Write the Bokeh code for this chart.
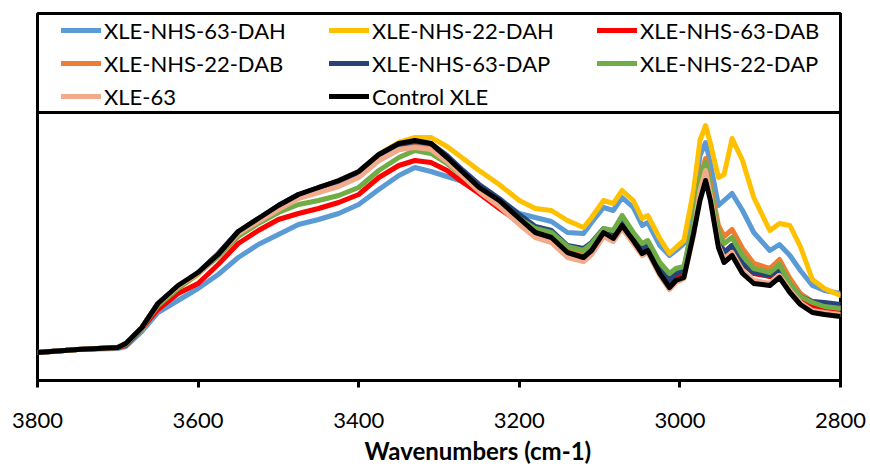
from bokeh.plotting import figure
from bokeh.models import Range1d, FixedTicker, Span, Title
from bokeh.embed import file_html
from bokeh.resources import INLINE

# Wavenumbers (cm-1)
wavenumbers = [3800, 3750, 3700, 3690, 3670, 3650, 3625, 3600, 3575, 3550,
               3525, 3500, 3475, 3450, 3425, 3400, 3375, 3350, 3330, 3310,
               3290, 3270, 3250, 3225, 3200, 3180, 3160, 3140, 3120, 3110,
               3095, 3083, 3072, 3058, 3047, 3040, 3025, 3013, 3005, 2995,
               2983, 2975, 2968, 2962, 2952, 2945, 2935, 2922, 2908, 2888,
               2876, 2863, 2850, 2835, 2820, 2800]

xle_nhs_63_dah = [0.028, 0.031, 0.032, 0.034, 0.049, 0.068, 0.080, 0.092, 0.106, 0.123,
                  0.136, 0.146, 0.156, 0.161, 0.167, 0.176, 0.191, 0.205, 0.213, 0.209,
                  0.204, 0.199, 0.191, 0.180, 0.167, 0.163, 0.159, 0.148, 0.147, 0.158,
                  0.173, 0.170, 0.183, 0.173, 0.155, 0.158, 0.135, 0.125, 0.130, 0.137,
                  0.175, 0.225, 0.238, 0.217, 0.175, 0.180, 0.187, 0.170, 0.148, 0.130,
                  0.136, 0.125, 0.110, 0.095, 0.090, 0.087]

xle_nhs_22_dah = [0.028, 0.031, 0.033, 0.036, 0.051, 0.074, 0.092, 0.106, 0.126, 0.147,
                  0.160, 0.173, 0.184, 0.191, 0.198, 0.208, 0.226, 0.238, 0.243, 0.243,
                  0.234, 0.222, 0.210, 0.196, 0.180, 0.172, 0.170, 0.160, 0.153, 0.163,
                  0.180, 0.177, 0.190, 0.180, 0.162, 0.165, 0.142, 0.127, 0.133, 0.140,
                  0.190, 0.240, 0.255, 0.237, 0.203, 0.206, 0.242, 0.220, 0.183, 0.150,
                  0.157, 0.155, 0.134, 0.101, 0.092, 0.085]

xle_nhs_63_dab = [0.028, 0.031, 0.033, 0.035, 0.052, 0.071, 0.087, 0.097, 0.116, 0.137,
                  0.150, 0.161, 0.167, 0.172, 0.178, 0.186, 0.203, 0.215, 0.220, 0.218,
                  0.210, 0.198, 0.187, 0.172, 0.158, 0.147, 0.143, 0.129, 0.125, 0.132,
                  0.149, 0.144, 0.157, 0.142, 0.130, 0.133, 0.110, 0.097, 0.103, 0.107,
                  0.152, 0.193, 0.212, 0.190, 0.140, 0.128, 0.135, 0.117, 0.107, 0.104,
                  0.112, 0.095, 0.082, 0.074, 0.071, 0.069]

xle_nhs_22_dab = [0.028, 0.031, 0.033, 0.037, 0.053, 0.076, 0.093, 0.107, 0.126, 0.147,
                  0.160, 0.172, 0.183, 0.189, 0.195, 0.204, 0.220, 0.231, 0.235, 0.233,
                  0.221, 0.206, 0.191, 0.176, 0.160, 0.149, 0.145, 0.131, 0.127, 0.134,
                  0.151, 0.147, 0.162, 0.146, 0.134, 0.137, 0.115, 0.103, 0.108, 0.112,
                  0.158, 0.203, 0.222, 0.197, 0.155, 0.144, 0.151, 0.132, 0.117, 0.112,
                  0.121, 0.102, 0.087, 0.079, 0.075, 0.073]

xle_nhs_63_dap = [0.028, 0.031, 0.033, 0.037, 0.053, 0.077, 0.094, 0.108, 0.127, 0.149,
                  0.162, 0.175, 0.186, 0.193, 0.199, 0.208, 0.225, 0.236, 0.239, 0.237,
                  0.225, 0.210, 0.196, 0.182, 0.166, 0.154, 0.150, 0.135, 0.132, 0.138,
                  0.152, 0.148, 0.162, 0.146, 0.132, 0.135, 0.114, 0.100, 0.107, 0.110,
                  0.154, 0.195, 0.210, 0.188, 0.142, 0.128, 0.135, 0.117, 0.108, 0.105,
                  0.112, 0.096, 0.084, 0.079, 0.078, 0.076]

xle_nhs_22_dap = [0.028, 0.031, 0.033, 0.036, 0.053, 0.075, 0.092, 0.107, 0.124, 0.144,
                  0.157, 0.168, 0.176, 0.180, 0.185, 0.193, 0.210, 0.223, 0.230, 0.227,
                  0.217, 0.204, 0.190, 0.175, 0.162, 0.152, 0.148, 0.134, 0.130, 0.137,
                  0.152, 0.150, 0.165, 0.148, 0.137, 0.140, 0.118, 0.107, 0.112, 0.114,
                  0.158, 0.202, 0.218, 0.192, 0.148, 0.137, 0.143, 0.125, 0.112, 0.108,
                  0.116, 0.097, 0.084, 0.078, 0.074, 0.072]

xle_63 = [0.028, 0.031, 0.033, 0.037, 0.053, 0.077, 0.094, 0.107, 0.126, 0.147,
          0.159, 0.171, 0.182, 0.188, 0.194, 0.203, 0.220, 0.231, 0.233, 0.231,
          0.219, 0.204, 0.189, 0.174, 0.156, 0.143, 0.138, 0.123, 0.119, 0.126,
          0.144, 0.139, 0.152, 0.137, 0.125, 0.128, 0.105, 0.091, 0.098, 0.102,
          0.145, 0.190, 0.210, 0.185, 0.135, 0.122, 0.128, 0.110, 0.100, 0.097,
          0.105, 0.090, 0.078, 0.070, 0.068, 0.066]

control_xle = [0.028, 0.031, 0.033, 0.037, 0.053, 0.077, 0.095, 0.108, 0.126, 0.149,
               0.162, 0.175, 0.186, 0.193, 0.200, 0.209, 0.226, 0.237, 0.240, 0.237,
               0.223, 0.208, 0.193, 0.180, 0.162, 0.148, 0.143, 0.128, 0.123, 0.130,
               0.148, 0.142, 0.155, 0.140, 0.127, 0.130, 0.107, 0.093, 0.100, 0.103,
               0.147, 0.180, 0.200, 0.180, 0.133, 0.118, 0.125, 0.107, 0.097, 0.095,
               0.103, 0.088, 0.076, 0.068, 0.066, 0.064]

series_names = ["XLE-NHS-63-DAH", "XLE-NHS-22-DAH", "XLE-NHS-63-DAB",
                "XLE-NHS-22-DAB", "XLE-NHS-63-DAP", "XLE-NHS-22-DAP",
                "XLE-63", "Control XLE"]
series_values = [xle_nhs_63_dah, xle_nhs_22_dah, xle_nhs_63_dab, xle_nhs_22_dab,
                 xle_nhs_63_dap, xle_nhs_22_dap, xle_63, control_xle]
series_colors = ["#5B9BD5", "#FFC000", "#FF0000", "#ED7D31",
                 "#264478", "#70AD47", "#F2AA8C", "#000000"]

x_ticks = [3800, 3600, 3400, 3200, 3000, 2800]
x_title = "Wavenumbers (cm-1)"

# layout constants
Y_TOP = 0.367      # top of frame (legend area included)
Y_SPLIT = 0.268    # top of the spectrum area
FONT = "Lato"

p = figure(width=870, height=468, output_backend="svg", toolbar_location=None,
           x_range=Range1d(3800, 2800), y_range=Range1d(0, Y_TOP),
           y_axis_location=None,
           min_border_left=37, min_border_right=30,
           min_border_top=13, min_border_bottom=88)
p.xgrid.visible = False
p.ygrid.visible = False
p.outline_line_color = "black"
p.outline_line_width = 3
p.background_fill_color = "white"
p.border_fill_color = "white"

for name, vals, col in zip(series_names, series_values, series_colors):
    p.line(wavenumbers, vals, line_color=col, line_width=5,
           line_join="round", line_cap="round", legend_label=name)

p.add_layout(Span(location=Y_SPLIT, dimension="width",
                  line_color="black", line_width=3))

ax = p.xaxis[0]
ax.ticker = FixedTicker(ticks=x_ticks)
ax.axis_line_width = 3
ax.axis_line_color = "black"
ax.major_tick_line_width = 3
ax.major_tick_line_color = "black"
ax.major_tick_out = 7
ax.major_tick_in = 0
ax.minor_tick_out = 0
ax.minor_tick_in = 0
ax.minor_tick_line_color = None
ax.major_label_text_font = FONT
ax.major_label_text_font_size = "22px"
ax.major_label_text_color = "black"
ax.major_label_standoff = 25

p.add_layout(Title(text=x_title, align="left", offset=327,
                   text_font=FONT, text_font_size="24px",
                   text_font_style="bold", text_color="black",
                   standoff=6), "below")

lg = p.legend[0]
lg.orientation = "horizontal"
lg.ncols = 3
lg.location = (22, 268)
lg.padding = 2
lg.margin = 0
lg.spacing = 5
lg.glyph_width = 40
lg.glyph_height = 28
lg.label_width = 220
lg.label_height = 28
lg.label_standoff = 3
lg.label_text_font = FONT
lg.label_text_font_size = "22px"
lg.label_text_color = "black"
lg.background_fill_alpha = 0
lg.border_line_alpha = 0

open("out.html", "w").write(file_html(p, INLINE))
